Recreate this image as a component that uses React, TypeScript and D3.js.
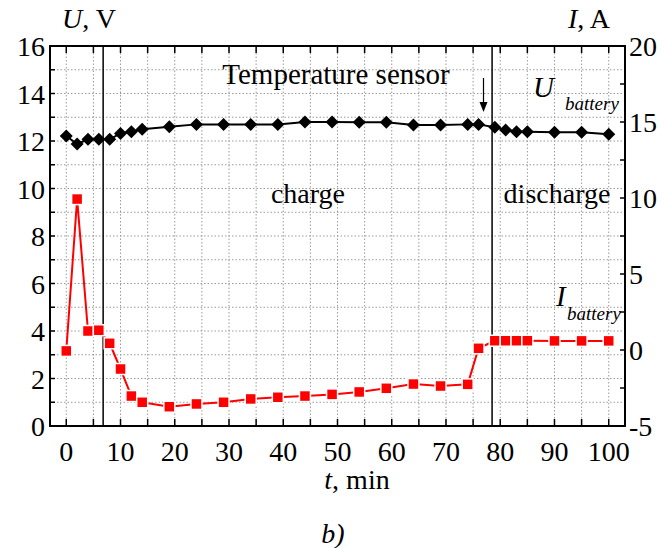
import React from "react";
import * as d3 from "d3";

const times = [0, 2, 4, 6, 8, 10, 12, 14, 19, 24, 29, 34, 39, 44, 49, 54, 59, 64, 69, 74, 76, 79, 81, 83, 85, 90, 95, 100];
const voltage = [12.21, 11.87, 12.07, 12.07, 12.07, 12.32, 12.39, 12.49, 12.6, 12.7, 12.7, 12.7, 12.7, 12.8, 12.8, 12.79, 12.79, 12.67, 12.67, 12.7, 12.7, 12.58, 12.46, 12.39, 12.39, 12.37, 12.37, 12.28];
const current = [-0.06, 9.93, 1.25, 1.3, 0.44, -1.25, -3.03, -3.44, -3.73, -3.55, -3.44, -3.22, -3.11, -3.03, -2.92, -2.76, -2.52, -2.24, -2.37, -2.26, 0.11, 0.61, 0.61, 0.61, 0.61, 0.6, 0.6, 0.6];
const xTicks = [0, 10, 20, 30, 40, 50, 60, 70, 80, 90, 100];
const uTicks = [0, 2, 4, 6, 8, 10, 12, 14, 16];
const iTicks = [-5, 0, 5, 10, 15, 20];
const phaseLines = [6.8, 78.5];

const W = 667, H = 548;
const L = 50, R = 625, T = 46, B = 426;
const FONT = "Liberation Serif, Tinos, Times New Roman, Times, DejaVu Serif, serif";
const ts: React.CSSProperties = { fontFamily: FONT };

export default function App() {
  const x = d3.scaleLinear().domain([-3, 103]).range([L, R]);
  const yU = d3.scaleLinear().domain([0, 16]).range([B, T]);
  const yI = d3.scaleLinear().domain([-5, 20]).range([B, T]);

  const xGrid = d3.range(0, 101, 5);
  const yGrid = d3.range(1, 16, 1);
  const iMinor = d3.range(-5, 20.01, 2.5);

  const uLine = d3.line<number>().x((_, i) => x(times[i])).y((d) => yU(d))(voltage) || "";
  const iLine = d3.line<number>().x((_, i) => x(times[i])).y((d) => yI(d))(current) || "";

  const ds = 6.5;
  const sq = 11;

  return (
    <svg width={W} height={H} style={{ position: "absolute", left: 0, top: 0, background: "#fff", fontFamily: FONT }}>
      <rect x={0} y={0} width={W} height={H} fill="#fff" />
      {/* grid */}
      {xGrid.map((t) => (
        <line key={"gx" + t} x1={x(t)} x2={x(t)} y1={T} y2={B} stroke="#9a9a9a" strokeWidth={1} strokeDasharray="1.5,2" />
      ))}
      {yGrid.map((v) => (
        <line key={"gy" + v} x1={L} x2={R} y1={yU(v)} y2={yU(v)} stroke="#9a9a9a" strokeWidth={1} strokeDasharray="1.5,2" />
      ))}
      {/* ticks */}
      {xGrid.map((t) => (
        <g key={"tx" + t}>
          <line x1={x(t)} x2={x(t)} y1={B} y2={B - 7} stroke="#000" strokeWidth={1.5} />
          <line x1={x(t)} x2={x(t)} y1={T} y2={T + 7} stroke="#000" strokeWidth={1.5} />
        </g>
      ))}
      {d3.range(1, 16, 1).map((v) => (
        <line key={"tu" + v} x1={L} x2={L + 5} y1={yU(v)} y2={yU(v)} stroke="#000" strokeWidth={1.5} />
      ))}
      {iMinor.map((v) => (
        <line key={"ti" + v} x1={R} x2={R - 5} y1={yI(v)} y2={yI(v)} stroke="#000" strokeWidth={1.5} />
      ))}
      {/* phase lines */}
      {phaseLines.map((t) => (
        <line key={"pl" + t} x1={x(t)} x2={x(t)} y1={T} y2={B} stroke="#111" strokeWidth={1.6} />
      ))}
      {/* frame */}
      <rect x={L} y={T} width={R - L} height={B - T} fill="none" stroke="#000" strokeWidth={2} />

      {/* current series */}
      <path d={iLine} fill="none" stroke="#ff0000" strokeWidth={2} />
      {current.map((v, i) => (
        <rect key={"s" + i} x={x(times[i]) - sq / 2} y={yI(v) - sq / 2} width={sq} height={sq} fill="#ff0000" stroke="#fff" strokeWidth={1.5} />
      ))}
      {/* voltage series */}
      <path d={uLine} fill="none" stroke="#000" strokeWidth={2} />
      {voltage.map((v, i) => {
        const cx = x(times[i]);
        const cy = yU(v);
        return (
          <path key={"d" + i} d={`M${cx},${cy - ds}L${cx + ds},${cy}L${cx},${cy + ds}L${cx - ds},${cy}Z`} fill="#000" />
        );
      })}

      {/* tick labels */}
      {xTicks.map((t) => (
        <text key={"lx" + t} style={ts} x={x(t)} y={461} fontSize={28} textAnchor="middle">{t}</text>
      ))}
      {uTicks.map((v) => (
        <text key={"lu" + v} style={ts} x={45} y={yU(v) + 10} fontSize={28} textAnchor="end">{v}</text>
      ))}
      {iTicks.map((v) => (
        <text key={"li" + v} style={ts} x={629} y={yI(v) + 10} fontSize={28} textAnchor="start">{v}</text>
      ))}

      {/* axis titles */}
      <text style={ts} x={62} y={28} fontSize={28}><tspan fontStyle="italic">U</tspan>, V</text>
      <text style={ts} x={568} y={28} fontSize={28}><tspan fontStyle="italic">I</tspan>, A</text>
      <text style={ts} x={357} y={489} fontSize={28} textAnchor="middle"><tspan fontStyle="italic">t</tspan>, min</text>
      <text style={ts} x={333} y={543} fontSize={28} textAnchor="middle" fontStyle="italic">b)</text>

      {/* annotations */}
      <text style={ts} x={336} y={84} fontSize={29} textAnchor="middle">Temperature sensor</text>
      <line x1={483.5} x2={483.5} y1={78} y2={104} stroke="#000" strokeWidth={1.2} />
      <path d="M479.5,102L487.5,102L483.5,112Z" fill="#000" />
      <text style={ts} x={308} y={203} fontSize={28} textAnchor="middle">charge</text>
      <text style={ts} x={557} y={203} fontSize={28} textAnchor="middle">discharge</text>
      <text style={ts} x={533} y={97} fontSize={29} fontStyle="italic">U</text>
      <text style={ts} x={565} y={110} fontSize={19} fontStyle="italic">battery</text>
      <text style={ts} x={556} y={306} fontSize={29} fontStyle="italic">I</text>
      <text style={ts} x={567} y={320} fontSize={19} fontStyle="italic">battery</text>
    </svg>
  );
}
